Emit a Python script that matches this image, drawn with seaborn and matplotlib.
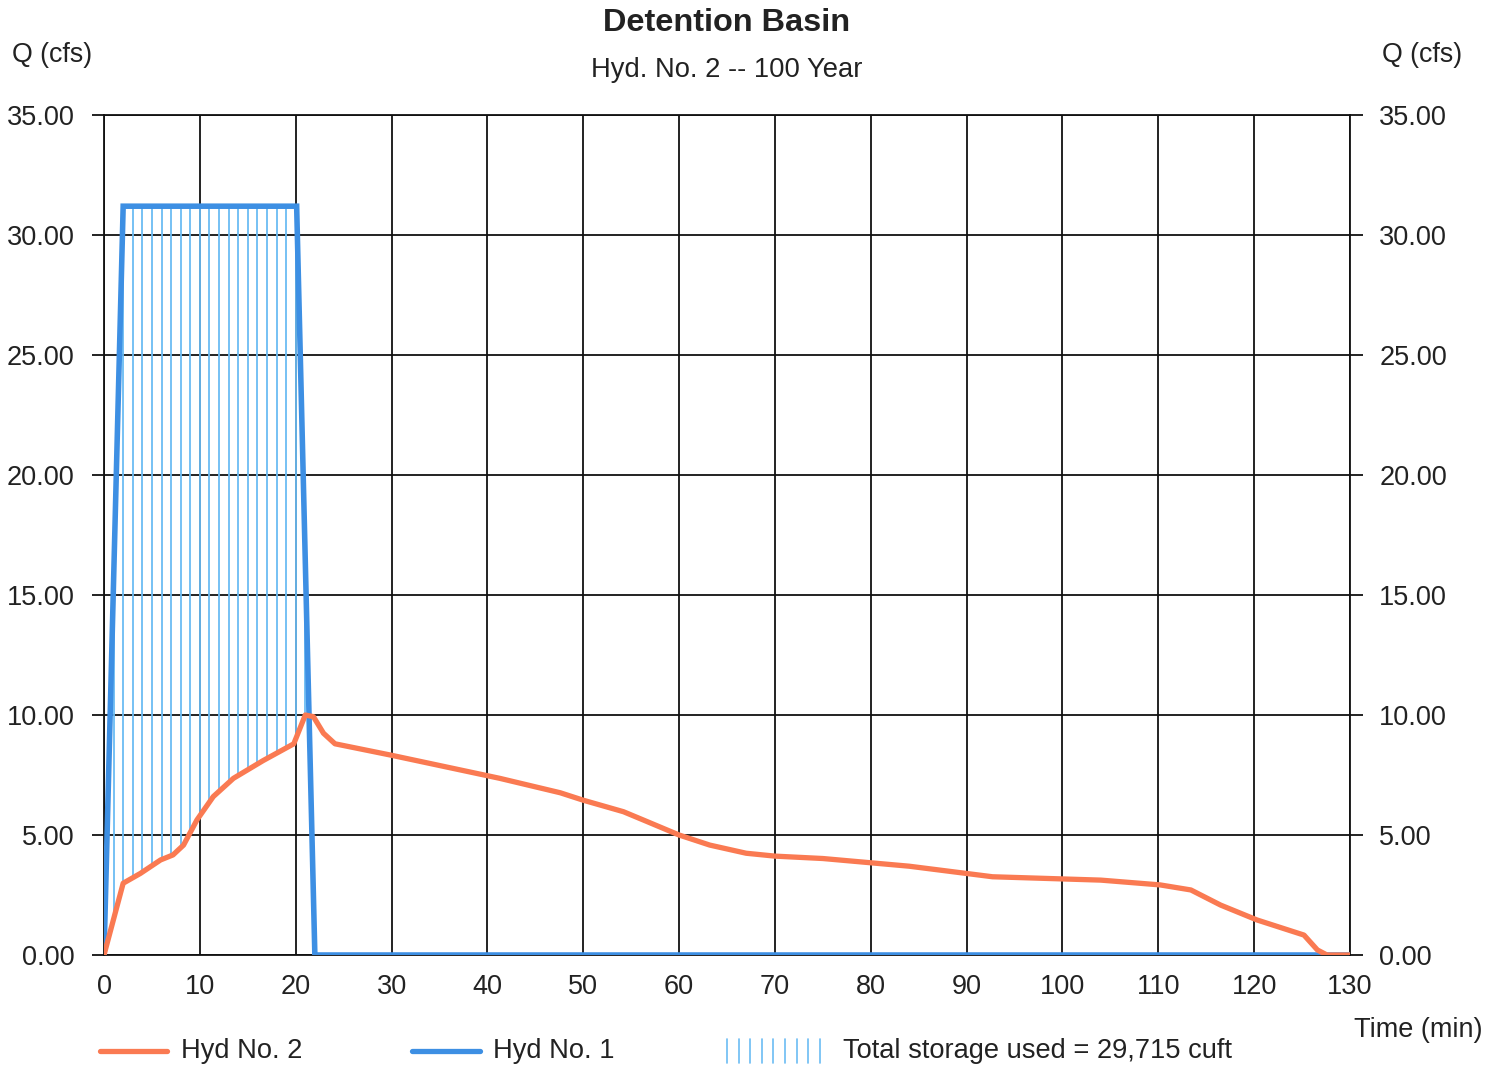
import numpy as np
import pandas as pd
import matplotlib
matplotlib.use("Agg")
import matplotlib.pyplot as plt
from matplotlib.lines import Line2D
import seaborn as sns

# ---- data ----
hyd1_time = [0, 2.0, 20.1, 22.0, 130]
hyd1_q = [0, 31.2, 31.2, 0, 0]

hyd2_time = [0, 2.0, 3.8, 5.9, 7.2, 8.3, 9.7, 11.4, 13.5, 16.6, 19.8, 21.0, 21.85,
             22.9, 24.1, 29.9, 41.3, 47.6, 50.0, 54.2, 56.3, 60.0, 63.2, 67.0, 70.0,
             75.0, 84.0, 92.7, 104.0, 110.2, 113.4, 116.5, 120.3, 125.2, 126.6,
             127.6, 130]
hyd2_q = [0, 2.99, 3.40, 3.96, 4.17, 4.58, 5.63, 6.6, 7.36, 8.1, 8.8, 10.0, 9.93,
          9.24, 8.8, 8.33, 7.36, 6.76, 6.45, 5.97, 5.62, 5.0, 4.58, 4.24, 4.12,
          4.02, 3.70, 3.26, 3.12, 2.92, 2.71, 2.08, 1.46, 0.83, 0.21, 0, 0]

hatch_times = list(range(1, 22))
x_ticks = list(range(0, 131, 10))
y_ticks = [0, 5, 10, 15, 20, 25, 30, 35]

title = "Detention Basin"
subtitle = "Hyd. No. 2 -- 100 Year"
legend_labels = ["Hyd No. 2", "Hyd No. 1", "Total storage used = 29,715 cuft"]

# ---- style ----
sns.set_style("white")
plt.rcParams["font.family"] = ["Liberation Sans", "DejaVu Sans"]
ORANGE = "#fa7a52"
BLUE = "#3d8fe3"
HATCH = "#6bbcf3"
TXT = "#222222"

fig = plt.figure(figsize=(14.99, 10.67), dpi=100)
ax = fig.add_axes([104 / 1499, 1 - 955 / 1067, (1350 - 104) / 1499, (955 - 115) / 1067])

df1 = pd.DataFrame({"t": hyd1_time, "q": hyd1_q})
df2 = pd.DataFrame({"t": hyd2_time, "q": hyd2_q})

# storage hatch: vertical lines between inflow and outflow
ht = np.array(hatch_times, dtype=float)
top = np.interp(ht, hyd1_time, hyd1_q)
bot = np.interp(ht, hyd2_time, hyd2_q)
mask = top > bot
ax.vlines(ht[mask], bot[mask], top[mask], colors=HATCH, linewidth=1.3, zorder=3)

sns.lineplot(data=df1, x="t", y="q", ax=ax, color=BLUE, linewidth=4.0,
             zorder=4, legend=False, solid_joinstyle="miter")
sns.lineplot(data=df2, x="t", y="q", ax=ax, color=ORANGE, linewidth=3.8,
             zorder=5, legend=False)

ax.set_xlim(0, 130)
ax.set_ylim(0, 35)
ax.set_xticks(x_ticks)
ax.set_yticks(y_ticks)
ax.set_xticklabels([str(v) for v in x_ticks])
ax.set_yticklabels([f"{v:.2f}" for v in y_ticks])
ax.grid(True, color="#111111", linewidth=1.3, zorder=1)
ax.set_axisbelow(True)
for s in ax.spines.values():
    s.set_color("#111111")
    s.set_linewidth(1.3)
ax.tick_params(axis="y", which="both", left=True, right=True, labelleft=True,
               labelright=True, length=9, width=1.3, color="#111111",
               direction="out", pad=12, labelsize=19.5, labelcolor=TXT)
ax.tick_params(axis="x", length=0, pad=14, labelsize=19.5, labelcolor=TXT)
ax.set_xlabel("")
ax.set_ylabel("")

# texts
fig.text(727 / 1499, 1 - 23 / 1067, title, ha="center", va="center",
         fontsize=23.4, fontweight="bold", color=TXT)
fig.text(727 / 1499, 1 - 70 / 1067, subtitle, ha="center", va="center",
         fontsize=19.7, color=TXT)
fig.text(12 / 1499, 1 - 55 / 1067, "Q (cfs)", ha="left", va="center",
         fontsize=19.3, color=TXT)
fig.text(1462 / 1499, 1 - 55 / 1067, "Q (cfs)", ha="right", va="center",
         fontsize=19.3, color=TXT)
fig.text(1482 / 1499, 1 - 1030 / 1067, "Time (min)", ha="right", va="center",
         fontsize=19.5, color=TXT)

# legend (manual, figure coords)
ly = 1 - 1051 / 1067
fig.add_artist(Line2D([100 / 1499, 167 / 1499], [ly, ly], color=ORANGE, linewidth=3.8,
                      transform=fig.transFigure))
fig.text(181 / 1499, ly, legend_labels[0], ha="left", va="center", fontsize=19.6, color=TXT)
fig.add_artist(Line2D([412 / 1499, 480 / 1499], [ly, ly], color=BLUE, linewidth=3.8,
                      transform=fig.transFigure))
fig.text(493 / 1499, ly, legend_labels[1], ha="left", va="center", fontsize=19.6, color=TXT)
for px in np.linspace(727, 820, 9):
    fig.add_artist(Line2D([px / 1499, px / 1499], [1 - 1063 / 1067, 1 - 1039 / 1067],
                          color=HATCH, linewidth=1.2, transform=fig.transFigure))
fig.text(843 / 1499, ly, legend_labels[2], ha="left", va="center", fontsize=19.6, color=TXT)

fig.savefig("out.png", dpi=100, facecolor="white")
